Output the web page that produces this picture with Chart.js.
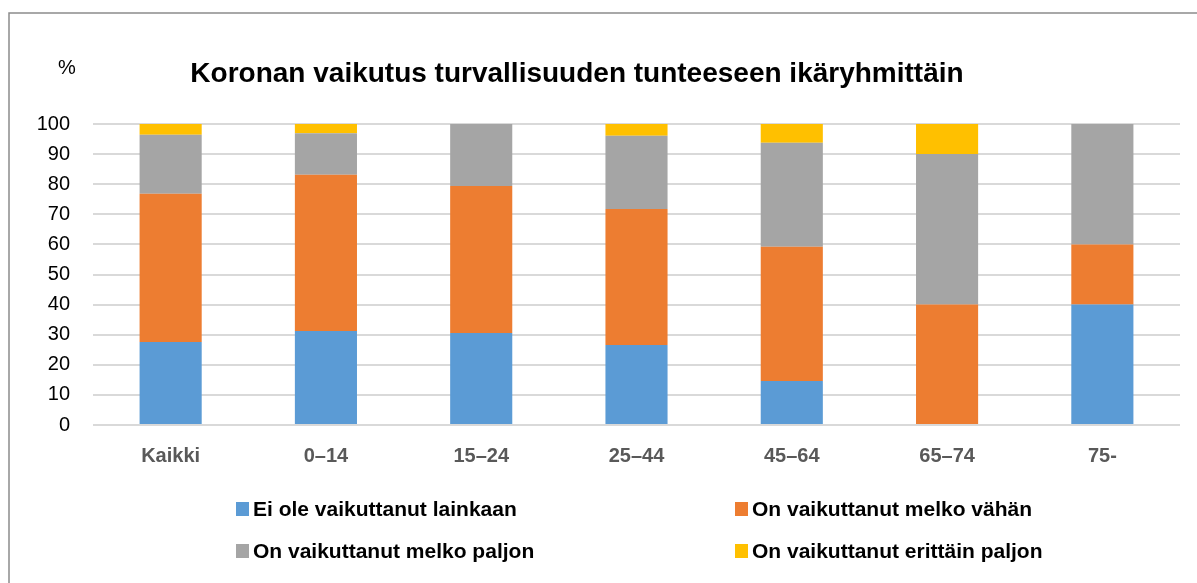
<!DOCTYPE html>
<html>
<head>
<meta charset="utf-8">
<script src="https://cdn.jsdelivr.net/npm/chart.js@4/dist/chart.umd.min.js"></script>
<style>
  html, body { margin: 0; padding: 0; background: #ffffff; }
  #wrap { position: relative; width: 1197px; height: 583px; }
  canvas { display: block; }
</style>
</head>
<body>
<div id="wrap"><canvas id="c" width="1197" height="583"></canvas></div>
<script>
const titleText = 'Koronan vaikutus turvallisuuden tunteeseen ikäryhmittäin';
const unitLabel = '%';
const categories = ['Kaikki', '0–14', '15–24', '25–44', '45–64', '65–74', '75-'];
const seriesNames = [
  'Ei ole vaikuttanut lainkaan',
  'On vaikuttanut melko vähän',
  'On vaikuttanut melko paljon',
  'On vaikuttanut erittäin paljon'
];
const eiLainkaan     = [27.6, 31.2, 30.6, 26.6, 14.6, 0, 40];
const melkoVahan     = [49.2, 51.9, 48.8, 45.2, 44.6, 40, 20];
const melkoPaljon    = [19.6, 13.8, 20.6, 24.3, 34.6, 50, 40];
const erittainPaljon = [3.6, 3.1, 0, 3.9, 6.2, 10, 0];
const yTicks = [0, 10, 20, 30, 40, 50, 60, 70, 80, 90, 100];

const seriesColors = ['#5b9bd5', '#ed7d31', '#a5a5a5', '#ffc000'];
const seriesValues = [eiLainkaan, melkoVahan, melkoPaljon, erittainPaljon];
const FONT = '"Liberation Sans", Arial, sans-serif';

const decorPlugin = {
  id: 'decor',
  afterDraw(chart) {
    const ctx = chart.ctx;
    ctx.save();
    // outer frame
    ctx.strokeStyle = '#8c8c8c';
    ctx.lineWidth = 1.5;
    ctx.beginPath();
    ctx.moveTo(9, 600);
    ctx.lineTo(9, 13);
    ctx.lineTo(1200, 13);
    ctx.stroke();
    // title
    ctx.fillStyle = '#000000';
    ctx.textAlign = 'center';
    ctx.textBaseline = 'middle';
    ctx.font = 'bold 28px ' + FONT;
    ctx.fillText(titleText, 577, 74);
    // unit
    ctx.font = '20px ' + FONT;
    ctx.fillText(unitLabel, 67, 68);
    // legend (2 columns x 2 rows)
    const cols = [236, 735];
    const rows = [509, 551];
    ctx.textAlign = 'left';
    ctx.font = 'bold 21px ' + FONT;
    chart.data.datasets.forEach((ds, i) => {
      const x = cols[i % 2];
      const y = rows[Math.floor(i / 2)];
      ctx.fillStyle = ds.backgroundColor;
      ctx.fillRect(x, y - 7, 13, 14);
      ctx.fillStyle = '#000000';
      ctx.fillText(ds.label, x + 17, y + 1);
    });
    ctx.restore();
  }
};

new Chart(document.getElementById('c'), {
  type: 'bar',
  data: {
    labels: categories,
    datasets: seriesNames.map((name, i) => ({
      label: name,
      data: seriesValues[i],
      backgroundColor: seriesColors[i],
      borderWidth: 0,
      categoryPercentage: 1,
      barPercentage: 0.4
    }))
  },
  options: {
    responsive: false,
    animation: false,
    devicePixelRatio: 1,
    layout: { padding: { top: 124, right: 17, bottom: 0, left: 0 } },
    plugins: {
      legend: { display: false },
      title: { display: false },
      tooltip: { enabled: false }
    },
    scales: {
      x: {
        stacked: true,
        grid: { display: false, drawTicks: false },
        border: { display: false },
        ticks: {
          color: '#595959',
          font: { family: FONT, size: 20, weight: 'bold' },
          padding: 19,
          maxRotation: 0
        },
        afterFit(scale) { scale.height = 158; }
      },
      y: {
        stacked: true,
        min: 0,
        max: 100,
        afterBuildTicks(scale) { scale.ticks = yTicks.map(v => ({ value: v })); },
        grid: { color: '#d9d9d9', lineWidth: 2, drawTicks: false },
        border: { display: false },
        ticks: {
          color: '#000000',
          font: { family: FONT, size: 20 },
          padding: 23
        },
        afterFit(scale) { scale.width = 93; }
      }
    }
  },
  plugins: [decorPlugin]
});
</script>
</body>
</html>
